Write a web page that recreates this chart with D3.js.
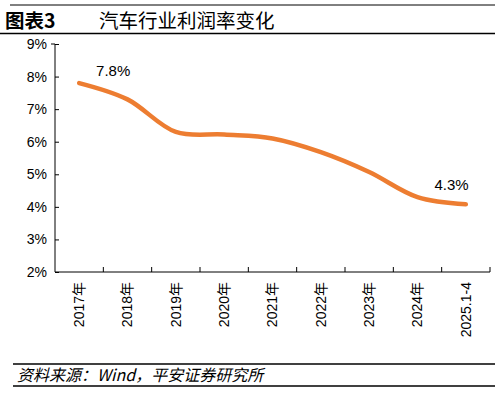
<!DOCTYPE html>
<html><head><meta charset="utf-8">
<script src="https://cdn.jsdelivr.net/npm/d3@7"></script>
<style>body{margin:0;background:#fff}svg{display:block}</style>
</head><body>
<svg id="c" width="500" height="393"></svg>
<script>
const categories = ["2017年","2018年","2019年","2020年","2021年","2022年","2023年","2024年","2025.1-4"];
const values = [7.8, 7.3, 6.3, 6.22, 6.1, 5.68, 5.07, 4.3, 4.08];
const yTicks = [2,3,4,5,6,7,8,9];
const labelIdx = [0, 7];
const labelText = ["7.8%","4.3%"];

const svg = d3.select("#c");
const font = "'Liberation Sans', Arial, 'Noto Sans CJK SC', sans-serif";
const cjk = "'Noto Sans CJK SC', sans-serif";

// header
svg.append("line").attr("x1",10).attr("x2",495).attr("y1",5).attr("y2",5).attr("stroke","#000").attr("stroke-width",1);
svg.append("text").attr("x",5).attr("y",28).attr("font-family",cjk).attr("font-weight","bold").attr("font-size",19.5).text("图表3");
svg.append("text").attr("x",99).attr("y",28).attr("font-family",cjk).attr("font-size",19.5).text("汽车行业利润率变化");
svg.append("line").attr("x1",0).attr("x2",495).attr("y1",33.5).attr("y2",33.5).attr("stroke","#000").attr("stroke-width",1.5);

const x = d3.scaleBand().domain(categories).range([55,490]);
const y = d3.scaleLinear().domain([2,9]).range([272,44]);

const yAxis = svg.append("g").attr("transform","translate(55,0)")
  .call(d3.axisLeft(y).tickValues(yTicks).tickSize(-4).tickPadding(8).tickFormat(d=>d+"%"));
yAxis.select(".domain").attr("d","M-4,"+y(9)+"H0V"+y(2));
yAxis.selectAll("text").attr("font-family",font).attr("font-size",14).attr("fill","#000");

const xAxis = svg.append("g").attr("transform","translate(0,272)")
  .call(d3.axisBottom(x).tickSize(0).tickPadding(0));
xAxis.select(".domain").attr("d","M55,0H490");
xAxis.selectAll(".tick text").attr("font-family",font).attr("font-size",14).attr("fill","#000")
  .attr("transform","rotate(-90)").attr("text-anchor","end").attr("dx","-10").attr("dy","0.35em").attr("y",0).attr("x",0);
// boundary ticks (inward)
svg.append("g").selectAll("line").data(categories.slice(1).concat(["end"])).join("line")
  .attr("x1",(d,i)=> i < categories.length-1 ? x(d) : 490)
  .attr("x2",(d,i)=> i < categories.length-1 ? x(d) : 490)
  .attr("y1",272).attr("y2",267).attr("stroke","#000");

const line = d3.line().x((d,i)=>x(categories[i])+x.bandwidth()/2).y(d=>y(d)).curve(d3.curveCatmullRom.alpha(0.5));
svg.append("path").datum(values).attr("d",line).attr("fill","none").attr("stroke","#ED7D31").attr("stroke-width",4.5).attr("stroke-linecap","round");

svg.append("g").selectAll("text").data(labelIdx).join("text")
  .attr("x",i=>x(categories[i])+x.bandwidth()/2+34).attr("y",i=>y(values[i])-7)
  .attr("text-anchor","middle").attr("font-family",font).attr("font-size",15).attr("fill","#000")
  .text((d,k)=>labelText[k]);

// footer
svg.append("line").attr("x1",13).attr("x2",495).attr("y1",364).attr("y2",364).attr("stroke","#000").attr("stroke-width",1.5);
svg.append("text").attr("x",17).attr("y",381).attr("font-family",cjk).attr("font-style","italic").attr("font-size",16)
  .text("资料来源：Wind，平安证券研究所");
svg.append("line").attr("x1",13).attr("x2",495).attr("y1",386).attr("y2",386).attr("stroke","#000").attr("stroke-width",1.5);
</script>
</body></html>
